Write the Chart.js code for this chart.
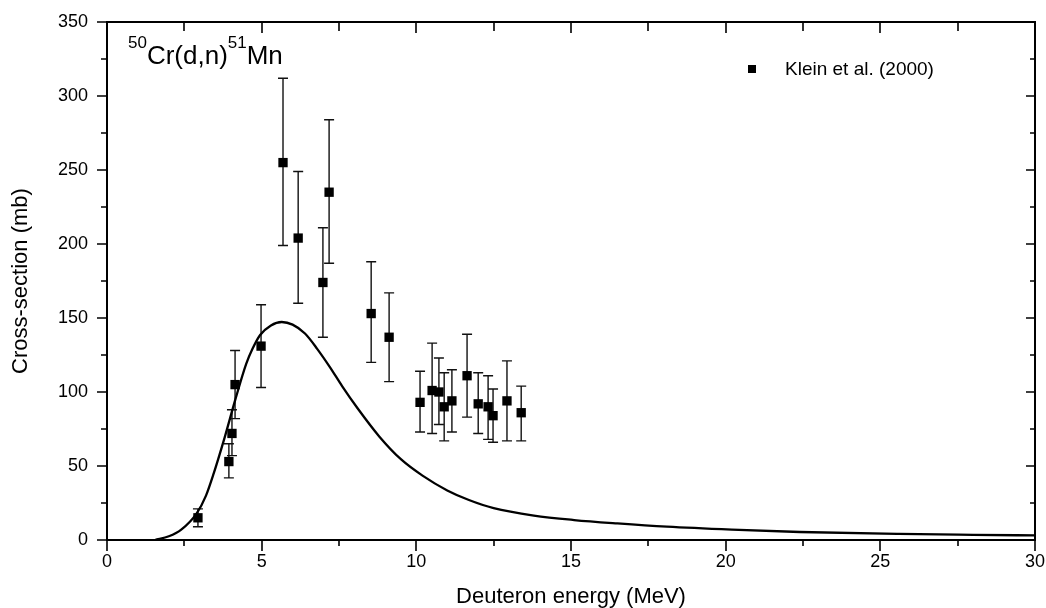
<!DOCTYPE html>
<html lang="en">
<head>
    <meta charset="UTF-8">
    <title>50Cr(d,n)51Mn cross-section</title>
    <script src="https://cdn.jsdelivr.net/npm/chart.js@4.4.1/dist/chart.umd.min.js"></script>
    <style>
        body { margin: 0; background: #fff; }
        #wrap { width: 1046px; height: 608px; }
    </style>
</head>
<body>
    <div id="wrap"><canvas id="xsChart" width="1046" height="608"></canvas></div>

    <script>
        // Klein et al. (2000) measured points
        const energy  = [2.94, 3.94, 4.04, 4.14, 4.98, 5.69, 6.18, 6.98, 7.18, 8.54, 9.12, 10.12, 10.51, 10.73, 10.90, 11.15, 11.64, 12.00, 12.32, 12.48, 12.93, 13.39];
        const xsExp   = [15, 53, 72, 105, 131, 255, 204, 174, 235, 153, 137, 93, 101, 100, 90, 94, 111, 92, 90, 84, 94, 86];
        const xsLow   = [9, 42, 57, 82, 103, 199, 160, 137, 187, 120, 107, 73, 72, 78, 67, 73, 83, 72, 68, 66, 67, 67];
        const xsHigh  = [21, 65, 88, 128, 159, 312, 249, 211, 284, 188, 167, 114, 133, 123, 113, 115, 139, 113, 111, 102, 121, 104];

        // calculated excitation function (solid line)
        const curveE  = [1.55, 2.0, 2.4, 2.9, 3.2, 3.45, 3.8, 4.15, 4.5, 4.7, 4.95, 5.3, 5.65, 6.0, 6.4, 6.8, 7.2, 7.6, 8.1, 8.8, 9.5, 10.2, 11.0, 11.7, 12.5, 13.8, 15.1, 16.5, 18.1, 20.2, 22.4, 25.6, 28.0, 30.0];
        const curveXS = [0, 2.5, 7, 18, 30, 45, 69, 95, 119, 129, 138.5, 145, 147.3, 145.5, 139.5, 129, 117, 104, 89, 70, 54.6, 43.5, 33.5, 27, 21.5, 16.5, 13.5, 11.2, 9.0, 7.0, 5.4, 4.1, 3.5, 3.1];

        const xTicks = [0, 5, 10, 15, 20, 25, 30];
        const yTicks = [0, 50, 100, 150, 200, 250, 300, 350];

        const legendLabel = 'Klein et al. (2000)';
        const FONT = 'Arial, "Liberation Sans", sans-serif';

        const decor = {
            id: 'decor',
            beforeDatasetsDraw(chart) {
                // error bars
                const ctx = chart.ctx, xs = chart.scales.x, ys = chart.scales.y;
                ctx.save();
                ctx.strokeStyle = '#111';
                ctx.lineWidth = 1.4;
                for (let i = 0; i < energy.length; i++) {
                    const px = xs.getPixelForValue(energy[i]);
                    const top = ys.getPixelForValue(xsHigh[i]);
                    const bot = ys.getPixelForValue(xsLow[i]);
                    ctx.beginPath();
                    ctx.moveTo(px, top); ctx.lineTo(px, bot);
                    ctx.moveTo(px - 5, top); ctx.lineTo(px + 5, top);
                    ctx.moveTo(px - 5, bot); ctx.lineTo(px + 5, bot);
                    ctx.stroke();
                }
                ctx.restore();
            },
            afterDraw(chart) {
                const ctx = chart.ctx, xs = chart.scales.x, ys = chart.scales.y;
                const a = chart.chartArea;
                ctx.save();
                ctx.strokeStyle = '#000';
                ctx.lineWidth = 2;
                ctx.strokeRect(a.left, a.top, a.right - a.left, a.bottom - a.top);

                // ticks: outward on bottom/left, inward on top/right
                ctx.lineWidth = 1.6;
                ctx.beginPath();
                for (let v = 0; v <= 30; v += 2.5) {
                    const px = Math.round(xs.getPixelForValue(v));
                    const major = v % 5 === 0;
                    ctx.moveTo(px, a.bottom); ctx.lineTo(px, a.bottom + (major ? 11 : 6));
                    ctx.moveTo(px, a.top); ctx.lineTo(px, a.top + (major ? 11 : 9));
                }
                for (let v = 0; v <= 350; v += 25) {
                    const py = Math.round(ys.getPixelForValue(v));
                    const major = v % 50 === 0;
                    ctx.moveTo(a.left, py); ctx.lineTo(a.left - (major ? 10 : 6), py);
                    ctx.moveTo(a.right, py); ctx.lineTo(a.right - (major ? 9 : 5), py);
                }
                ctx.stroke();

                // reaction label with superscripts
                ctx.fillStyle = '#000';
                ctx.textBaseline = 'alphabetic';
                let tx = 128;
                const parts = [['50', 17, 48], ['Cr(d,n)', 26, 64], ['51', 17, 48], ['Mn', 26, 64]];
                parts.forEach(([t, size, base]) => {
                    ctx.font = size + 'px ' + FONT;
                    ctx.fillText(t, tx, base);
                    tx += ctx.measureText(t).width;
                });

                // legend
                ctx.fillRect(748, 65, 8, 8);
                ctx.font = '19px ' + FONT;
                ctx.textBaseline = 'middle';
                ctx.fillText(legendLabel, 785, 70);
                ctx.restore();
            }
        };

        const chart = new Chart(document.getElementById('xsChart').getContext('2d'), {
            type: 'scatter',
            data: {
                datasets: [
                    {
                        label: legendLabel,
                        data: energy.map((e, i) => ({ x: e, y: xsExp[i] })),
                        pointStyle: 'rect',
                        pointRadius: 6.6,
                        backgroundColor: '#000',
                        borderColor: '#000',
                        borderWidth: 0,
                        order: 0
                    },
                    {
                        type: 'line',
                        label: 'calculation',
                        data: curveE.map((e, i) => ({ x: e, y: curveXS[i] })),
                        borderColor: '#000',
                        borderWidth: 2.3,
                        pointRadius: 0,
                        fill: false,
                        cubicInterpolationMode: 'monotone',
                        order: 1
                    }
                ]
            },
            options: {
                responsive: false,
                animation: false,
                layout: { padding: { left: 0, right: 11, top: 22, bottom: 0 } },
                plugins: { legend: { display: false }, tooltip: { enabled: false } },
                scales: {
                    x: {
                        type: 'linear', min: 0, max: 30,
                        afterBuildTicks: (s) => { s.ticks = xTicks.map(v => ({ value: v })); },
                        ticks: { padding: 11, color: '#000', font: { size: 18, family: FONT } },
                        grid: { display: false, drawTicks: false },
                        border: { display: false },
                        title: { display: true, text: 'Deuteron energy (MeV)', color: '#000', padding: 0,
                                 font: { size: 22, family: FONT, lineHeight: 1 } },
                        afterFit: (s) => { s.height = 68; s.paddingLeft = 0; s.paddingRight = 0; }
                    },
                    y: {
                        type: 'linear', min: 0, max: 350,
                        afterBuildTicks: (s) => { s.ticks = yTicks.map(v => ({ value: v })); },
                        ticks: { padding: 19, color: '#000', font: { size: 18, family: FONT } },
                        grid: { display: false, drawTicks: false },
                        border: { display: false },
                        title: { display: true, text: 'Cross-section (mb)', color: '#000', padding: { top: 8, bottom: 0 },
                                 font: { size: 22, family: FONT } },
                        afterFit: (s) => { s.width = 107; s.paddingTop = 0; s.paddingBottom = 0; }
                    }
                }
            },
            plugins: [decor]
        });
    </script>
</body>
</html>
